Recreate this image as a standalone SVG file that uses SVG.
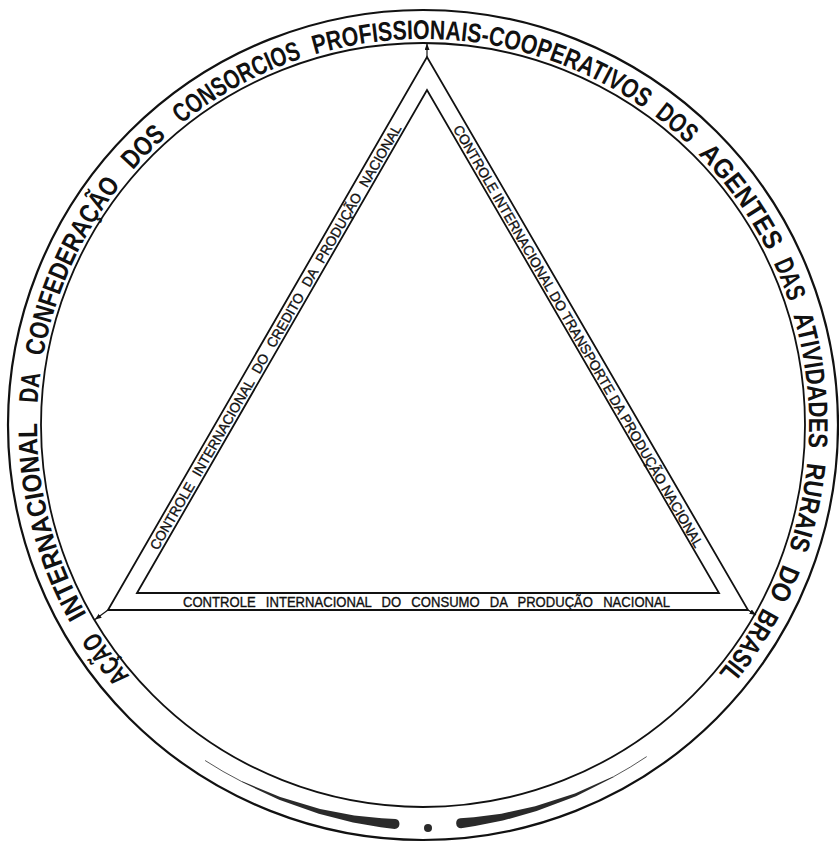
<svg xmlns="http://www.w3.org/2000/svg" width="839" height="844" viewBox="0 0 839 844">
<style>
.band{fill:none;stroke:#111;}
.tri{fill:none;stroke:#111;stroke-width:1.8;stroke-linejoin:miter;}
.ring{font-family:"Liberation Sans",Arial,sans-serif;font-weight:bold;font-size:27px;fill:#111;text-anchor:middle;}
.side{font-family:"Liberation Sans",Arial,sans-serif;font-size:14px;fill:#111;stroke:#111;stroke-width:0.35;}
.conn{fill:none;stroke:#111;stroke-width:1.2;}
.deco{fill:#2a2a2a;stroke:none;}
</style>
<defs>
<path id="ringPath" d="M 423 811 A 386 386 0 1 1 423 39 A 386 386 0 1 1 423 811"/>
<marker id="arr" markerWidth="7" markerHeight="6" refX="6.5" refY="2.5" orient="auto" markerUnits="userSpaceOnUse">
<path d="M0,0 L6.5,2.5 L0,5 z" fill="#111"/>
</marker>
</defs>
<rect width="839" height="844" fill="#fff"/>
<g id="ring">
<circle class="band" cx="423" cy="425" r="415" stroke-width="2.2"/>
<circle class="band" cx="423" cy="425" r="382" stroke-width="1.8"/>
<path class="deco" d="M241.2,781.8 L279.1,799.8 L318.8,813.8 L353,822.4 L380.7,827.3 L394.7,829 A5,5 0 0 0 395.4,819.1 L381.7,818.3 L354.2,815.5 L320.1,809 L280.2,797 L241.6,781 Z"/>
<path class="deco" d="M613.5,777.3 L576,796.2 L536.6,811.1 L502.8,820.6 L475.1,826.1 L461.1,828.2 A5,5 0 0 1 460.2,818.3 L473.9,817.2 L501.4,813.7 L535.2,806.3 L574.9,793.4 L613,776.4 Z"/>
<path fill="none" stroke="#444" stroke-width="0.9" d="M 241.4 781.4 A 400 400 0 0 1 205.1 760.5"/>
<path fill="none" stroke="#444" stroke-width="0.9" d="M 613.2 776.9 A 400 400 0 0 0 646.7 756.6"/>
<circle cx="428" cy="828" r="4" fill="#2a2a2a"/>
<text class="ring"><textPath href="#ringPath" startOffset="361" textLength="56" lengthAdjust="spacingAndGlyphs">AÇÃO</textPath></text>
<text class="ring"><textPath href="#ringPath" startOffset="508" textLength="200" lengthAdjust="spacingAndGlyphs">INTERNACIONAL</textPath></text>
<text class="ring"><textPath href="#ringPath" startOffset="643" textLength="30" lengthAdjust="spacingAndGlyphs">DA</textPath></text>
<text class="ring"><textPath href="#ringPath" startOffset="770" textLength="190" lengthAdjust="spacingAndGlyphs">CONFEDERAÇÃO</textPath></text>
<text class="ring"><textPath href="#ringPath" startOffset="908" textLength="48" lengthAdjust="spacingAndGlyphs">DOS</textPath></text>
<text class="ring"><textPath href="#ringPath" startOffset="1020" textLength="138" lengthAdjust="spacingAndGlyphs">CONSORCIOS</textPath></text>
<text class="ring"><textPath href="#ringPath" startOffset="1275" textLength="345" lengthAdjust="spacingAndGlyphs">PROFISSIONAIS-COOPERATIVOS</textPath></text>
<text class="ring"><textPath href="#ringPath" startOffset="1482" textLength="44" lengthAdjust="spacingAndGlyphs">DOS</textPath></text>
<text class="ring"><textPath href="#ringPath" startOffset="1578" textLength="120" lengthAdjust="spacingAndGlyphs">AGENTES</textPath></text>
<text class="ring"><textPath href="#ringPath" startOffset="1672" textLength="42" lengthAdjust="spacingAndGlyphs">DAS</textPath></text>
<text class="ring"><textPath href="#ringPath" startOffset="1774" textLength="134" lengthAdjust="spacingAndGlyphs">ATIVIDADES</textPath></text>
<text class="ring"><textPath href="#ringPath" startOffset="1900" textLength="88" lengthAdjust="spacingAndGlyphs">RURAIS</textPath></text>
<text class="ring"><textPath href="#ringPath" startOffset="1978" textLength="36" lengthAdjust="spacingAndGlyphs">DO</textPath></text>
<text class="ring"><textPath href="#ringPath" startOffset="2048" textLength="80" lengthAdjust="spacingAndGlyphs">BRASIL</textPath></text>
</g>
<g id="triangle">
<path class="tri" d="M108,610 L427,57 L748,610 Z"/>
<path class="tri" d="M137,593 L427,90 L719,593 Z"/>
</g>
<g id="label-credito" transform="translate(108,610) rotate(-60)">
<text class="side" x="76" y="13.5" textLength="488" lengthAdjust="spacingAndGlyphs" word-spacing="6">CONTROLE INTERNACIONAL DO CREDITO DA PRODUÇÃO NACIONAL</text>
</g>
<g id="label-transporte" transform="translate(427,57) rotate(60)">
<text class="side" x="75" y="13.5" textLength="485" lengthAdjust="spacingAndGlyphs" font-size="13">CONTROLE INTERNACIONAL DO TRANSPORTE DA PRODUÇÃO NACIONAL</text>
</g>
<g id="label-consumo">
<text class="side" x="183" y="606.5" textLength="487" lengthAdjust="spacingAndGlyphs" word-spacing="7" font-size="15">CONTROLE INTERNACIONAL DO CONSUMO DA PRODUÇÃO NACIONAL</text>
</g>
<g id="connectors">
<line class="conn" x1="427" y1="57" x2="427" y2="43.5" marker-end="url(#arr)"/>
<line class="conn" x1="108" y1="610" x2="95" y2="619.5" marker-end="url(#arr)"/>
<line class="conn" x1="748" y1="610" x2="756" y2="615" marker-end="url(#arr)"/>
</g>
</svg>
